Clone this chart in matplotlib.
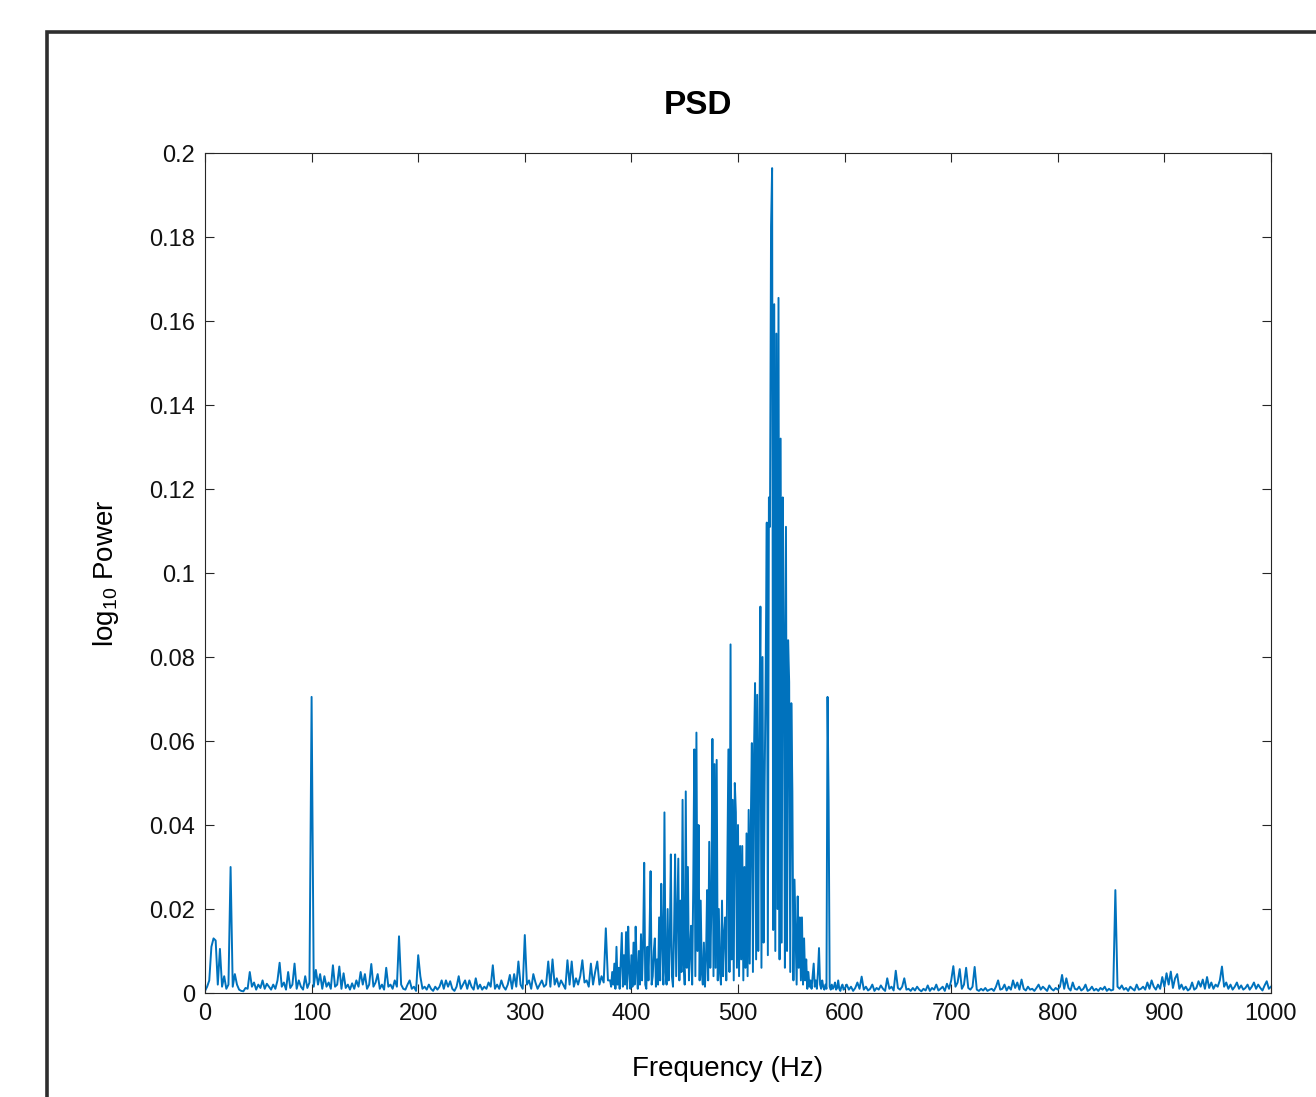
import numpy as np
import matplotlib
matplotlib.use("Agg")
import matplotlib.pyplot as plt
from matplotlib.patches import Rectangle
from matplotlib.ticker import FuncFormatter

plt.rcParams['font.family'] = ['Liberation Sans', 'DejaVu Sans']
plt.rcParams['mathtext.default'] = 'regular'

# ---- data (power values in units of 1e-3) ----
# 0 - 378 Hz, 2 Hz steps
freq_low = np.arange(0, 380, 2)
psd_low = [
    0.5, 1.5, 3.0, 11.0, 13.0, 12.5, 2.0, 10.5, 1.5, 4.0,
    1.0, 2.0, 30.0, 1.5, 4.5, 2.0, 0.8, 0.5, 0.4, 1.2,
    1.0, 5.0, 1.5, 2.5, 0.8, 2.0, 1.2, 3.0, 1.0, 2.2,
    1.5, 0.8, 2.0, 1.0, 3.0, 7.2, 1.5, 2.5, 0.8, 5.0,
    1.2, 2.0, 7.0, 1.0, 3.0, 1.5, 0.8, 4.0, 1.2, 2.5,
    70.5, 1.5, 5.5, 2.0, 4.5, 1.0, 4.0, 1.5, 2.5, 1.0,
    6.6, 1.5, 2.0, 6.3, 1.0, 4.7, 1.2, 2.0, 0.8, 2.3,
    1.0, 3.0, 1.5, 5.0, 2.0, 4.5, 1.0, 2.0, 6.9, 1.5,
    2.5, 4.5, 1.0, 2.0, 0.8, 6.0, 1.5, 2.0, 1.0, 3.0,
    1.5, 13.5, 2.0, 1.0, 0.8, 2.0, 3.0, 1.0, 1.5, 0.5,
    9.0, 4.0, 1.0, 1.5, 0.8, 2.0, 1.0, 0.5, 1.5, 0.8,
    1.5, 3.0, 1.0, 3.0, 1.5, 2.8, 1.0, 0.5, 1.5, 4.0,
    1.0, 2.0, 3.0, 1.0, 3.0, 1.5, 0.8, 3.5, 1.0, 2.0,
    0.8, 1.5, 1.0, 2.5, 1.5, 6.6, 1.0, 2.0, 1.0, 3.0,
    1.5, 0.8, 2.0, 4.3, 1.0, 4.5, 1.5, 7.5, 2.0, 1.0,
    13.8, 2.0, 3.0, 1.0, 4.5, 2.5, 1.0, 2.0, 3.0, 1.5,
    2.0, 7.5, 1.5, 8.0, 2.0, 3.5, 1.5, 3.0, 2.0, 1.0,
    7.8, 2.0, 7.5, 1.5, 3.5, 2.0, 4.0, 7.8, 2.5, 3.0,
    1.5, 7.0, 2.0, 5.0, 7.5, 2.0, 4.0, 2.5, 15.4, 3.0,
]

# 380 - 599 Hz, 1 Hz steps (main resonance band)
freq_mid = np.arange(380, 600, 1)
psd_mid = [
    3, 1.5, 5, 2, 7, 1, 11, 2, 6, 1, 8, 14.3, 1.5, 9, 2, 14.5, 1, 15.8, 5, 1,
    9, 1.5, 12, 2, 15.8, 6, 1, 10, 2, 14, 3, 12, 31, 2, 1, 11, 3, 14, 29, 2,
    4, 10, 13, 1.5, 8, 2, 18, 3, 26, 12, 2, 43, 5, 2, 20, 3, 12, 33, 4, 1.5,
    14, 33, 4, 18, 32, 3, 22, 5, 46, 8, 2, 48, 6, 30, 3, 10, 16, 2, 25, 58,
    4, 62, 10, 40, 3, 22, 5, 2, 12, 1.5, 8, 24.5, 3, 36, 6, 20, 60.5, 4, 54.5, 6,
    55.5, 3, 20, 5, 2, 22, 4, 14, 18, 3, 30, 58, 5, 83, 8, 46, 3, 50, 43, 6,
    40, 4, 35, 8, 35, 3, 30, 6, 38, 4, 43.6, 7, 40, 59.5, 5, 57, 73.8, 8, 71, 10,
    60, 92, 6, 80, 12, 50, 77, 112, 9, 118, 111, 182.5, 196.4, 15, 164, 10, 157, 20, 165.5, 8,
    132, 12, 118, 86, 6, 111, 10, 84, 74, 5, 69, 48, 3, 27, 14, 2, 23, 6, 18, 3,
    18, 2, 13, 3, 8, 1, 5, 1.5, 3, 1, 4, 7, 1.5, 3, 1, 5, 10.7, 2, 1, 3,
    1.5, 0.8, 2, 1, 70.5, 46, 1.5, 0.8, 2, 1, 1.5, 2.5, 0.8, 1.2, 3, 1, 0.5, 1.5, 2, 0.8,
]

# 600 - 1000 Hz, 2 Hz steps
freq_high = np.arange(600, 1001, 2)
psd_high = [
    1.0, 2.0, 0.8, 1.5, 0.5, 1.2, 2.5, 1.0, 3.9, 0.8,
    1.5, 0.6, 1.0, 2.0, 0.5, 1.2, 0.8, 1.8, 1.0, 0.5,
    3.5, 1.0, 1.5, 0.6, 5.3, 1.2, 0.8, 1.5, 3.5, 0.8,
    1.0, 0.5, 1.2, 0.6, 1.5, 0.8, 0.4, 1.0, 0.6, 1.8,
    0.5, 1.2, 0.8, 2.0, 0.6, 1.0, 1.5, 0.5, 2.2, 1.0,
    3.0, 6.4, 1.5, 2.5, 5.7, 1.0, 2.0, 6.0, 1.2, 0.8,
    1.5, 6.2, 0.8, 0.5, 1.0, 0.6, 1.2, 0.5, 0.8, 1.0,
    0.5, 1.5, 3.0, 0.8, 1.0, 2.0, 0.6, 1.5, 0.8, 3.0,
    1.2, 2.5, 0.8, 3.2, 1.0, 0.6, 1.5, 0.8, 1.0, 0.5,
    1.2, 2.0, 0.8, 1.5, 1.0, 0.5, 1.8, 1.0, 0.6, 1.2,
    0.8, 1.5, 4.3, 1.0, 3.5, 1.2, 0.6, 2.5, 1.0, 0.8,
    1.5, 0.6, 1.0, 2.0, 0.5, 0.8, 1.5, 0.6, 1.0, 0.5,
    1.2, 0.8, 1.5, 0.5, 1.0, 0.6, 0.8, 24.5, 1.5, 1.0,
    1.8, 0.8, 1.2, 0.5, 1.5, 1.0, 0.6, 2.0, 0.8, 1.0,
    1.5, 0.8, 2.5, 1.0, 3.0, 1.5, 0.8, 2.0, 1.0, 3.8,
    1.5, 4.7, 2.0, 5.1, 1.2, 3.5, 4.5, 1.0, 2.0, 0.8,
    1.5, 0.6, 1.0, 2.5, 0.8, 1.2, 2.8, 1.5, 3.2, 1.0,
    3.8, 1.2, 2.5, 1.0, 2.0, 1.5, 3.0, 6.3, 1.5, 2.5,
    1.0, 2.0, 0.8, 1.5, 2.5, 1.0, 1.8, 0.8, 1.2, 2.0,
    0.8, 1.5, 2.5, 1.0, 2.0, 1.2, 0.6, 1.8, 2.8, 1.0,
    1.5,
]

x_ticks = [0, 100, 200, 300, 400, 500, 600, 700, 800, 900, 1000]
y_ticks = [0, 0.02, 0.04, 0.06, 0.08, 0.1, 0.12, 0.14, 0.16, 0.18, 0.2]

freq = np.concatenate([freq_low, freq_mid, freq_high])
power = np.concatenate([psd_low, psd_mid, psd_high]) * 1e-3

# ---- figure ----
W, H = 1316, 1097
fig = plt.figure(figsize=(W / 100, H / 100), dpi=100)

# outer frame (cut off at right and bottom)
frame = Rectangle((47 / W, -0.2), 1.2, (1 - 32 / H) + 0.2, transform=fig.transFigure,
                  fill=False, edgecolor='#2e2e2e', linewidth=2.6, clip_on=False)
fig.patches.append(frame)

ax = fig.add_axes([205 / W, 104 / H, 1066 / W, 840 / H])
ax.plot(freq, power, color='#0072BD', linewidth=1.4)

ax.set_xlim(0, 1000)
ax.set_ylim(0, 0.2)
ax.set_xticks(x_ticks)
ax.set_yticks(y_ticks)
ax.yaxis.set_major_formatter(FuncFormatter(lambda v, p: f"{v:g}"))
ax.tick_params(direction='in', length=6.5, width=0.8, top=True, right=True,
               labelsize=17, pad=7, colors='#262626')
ax.tick_params(labelcolor='#111111')
for s in ax.spines.values():
    s.set_linewidth(0.8)
    s.set_color('#262626')

ax.set_title('PSD', fontsize=24, fontweight='bold', pad=28, x=(698 - 205) / 1066)
ax.set_xlabel('Frequency (Hz)', fontsize=20)
ax.xaxis.set_label_coords((728 - 205) / 1066, -0.0745)
ax.set_ylabel(r'log$_{10}$ Power', fontsize=20, labelpad=20)

fig.savefig('out.png', dpi=100)
